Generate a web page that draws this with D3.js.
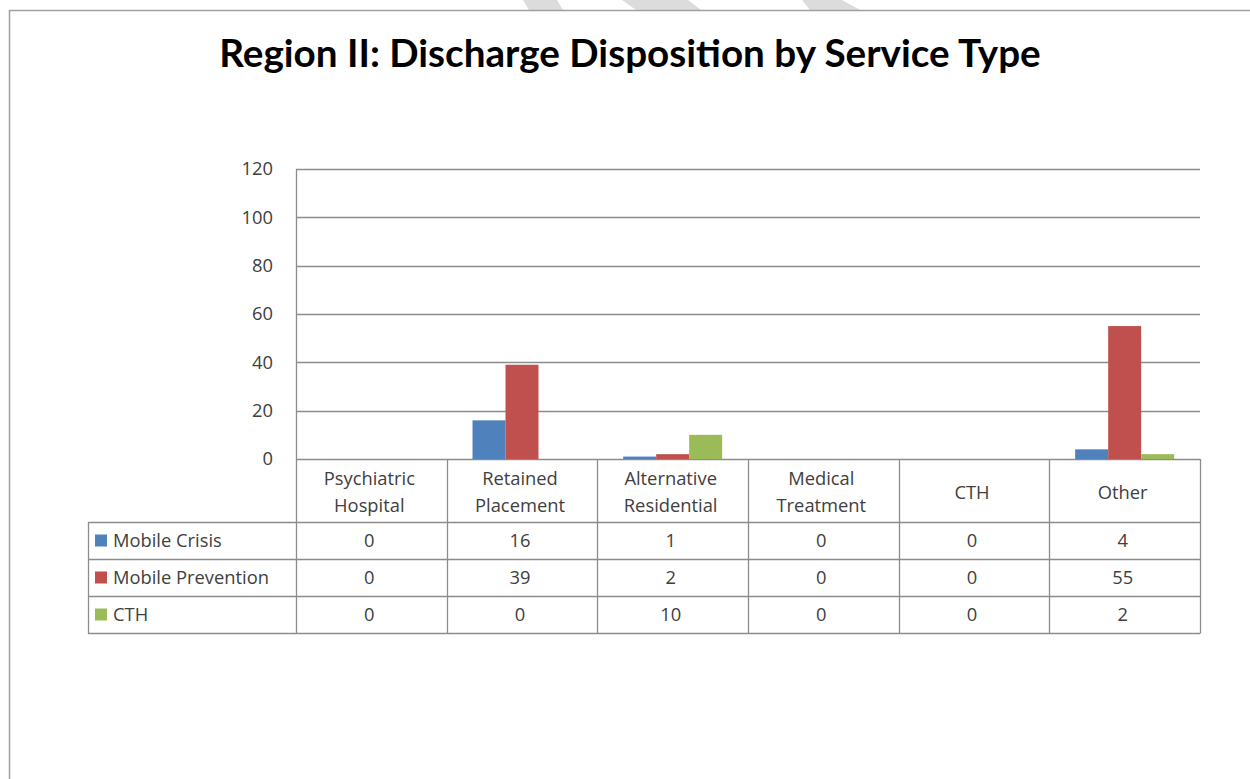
<!DOCTYPE html>
<html>
<head>
<meta charset="utf-8">
<script src="https://cdn.jsdelivr.net/npm/d3@7"></script>
<style>
  html, body { margin: 0; padding: 0; background: #fff; }
  svg { display: block; }
</style>
</head>
<body>
<svg id="chart"></svg>
<script>
// chart data
const categories = ["Psychiatric Hospital", "Retained Placement", "Alternative Residential", "Medical Treatment", "CTH", "Other"];
const categoryLines = [["Psychiatric", "Hospital"], ["Retained", "Placement"], ["Alternative", "Residential"], ["Medical", "Treatment"], ["CTH"], ["Other"]];
const seriesNames = ["Mobile Crisis", "Mobile Prevention", "CTH"];
const mobileCrisis = [0, 16, 1, 0, 0, 4];
const mobilePrevention = [0, 39, 2, 0, 0, 55];
const cth = [0, 0, 10, 0, 0, 2];
const yTicks = [0, 20, 40, 60, 80, 100, 120];
const title = "Region II: Discharge Disposition by Service Type";

const seriesValues = [mobileCrisis, mobilePrevention, cth];
const colors = ["#4F81BD", "#C0504D", "#9BBB59"];

const width = 1250, height = 779;
const svg = d3.select("#chart").attr("width", width).attr("height", height);

// faint watermark stripes cut off at the top of the page
const stripes = [
  [[523, 0], [557, 0], [563, 10], [529, 10]],
  [[622, 0], [688, 0], [701, 10], [636, 10]],
  [[802, 0], [842, 0], [860, 10], [810, 10]]
];
svg.selectAll("polygon.wm").data(stripes).enter().append("polygon")
  .attr("points", d => d.map(p => p.join(",")).join(" "))
  .attr("fill", "#dcdcdc");

// outer frame (only the top and left edges are in view)
svg.append("path")
  .attr("d", "M9.5," + height + " V10.5 H" + width)
  .attr("fill", "none").attr("stroke", "#a0a0a0").attr("stroke-width", 1.5);

// title, sized to span the same width as the original
const titleText = svg.append("text")
  .attr("x", 630).attr("y", 67)
  .attr("text-anchor", "middle")
  .style("font-family", "Lato, 'Open Sans', sans-serif")
  .style("font-weight", "bold")
  .style("font-size", "32px")
  .attr("fill", "#000")
  .text(title);
let tw = titleText.node().getComputedTextLength();
titleText.style("font-size", (32 * 822 / tw) + "px");

// label font size: fit "Mobile Prevention" to its width in the reference
const labelFont = "'Open Sans', 'Noto Sans', sans-serif";
const probe = svg.append("text").style("font-family", labelFont).style("font-size", "16px").text("Mobile Prevention");
const fs = 16 * 156 / probe.node().getComputedTextLength();
probe.remove();
const textColor = "#404040";
const textShift = -2;

const plotLeft = 296, plotRight = 1200, plotTop = 169, plotBottom = 459;

const x = d3.scaleBand().domain(categories).range([plotLeft, plotRight]);
const groupW = x.bandwidth() * 0.657;
const xInner = d3.scaleBand().domain(seriesNames)
  .range([(x.bandwidth() - groupW) / 2, (x.bandwidth() + groupW) / 2]);
const y = d3.scaleLinear().domain([0, 120]).range([plotBottom, plotTop]);

const gridColor = "#8c8c8c";

// gridlines
svg.append("g").selectAll("line").data(yTicks).enter().append("line")
  .attr("x1", plotLeft).attr("x2", plotRight)
  .attr("y1", d => Math.round(y(d)) + 0.5).attr("y2", d => Math.round(y(d)) + 0.5)
  .attr("stroke", gridColor).attr("stroke-width", 1.3);

// y axis labels
const yAxis = d3.axisLeft(y).tickValues(yTicks).tickSize(0).tickPadding(0);
const gy = svg.append("g").attr("transform", "translate(273,0)").call(yAxis);
gy.select(".domain").remove();
gy.selectAll("text")
  .style("font-family", labelFont).style("font-size", fs + "px")
  .attr("fill", textColor);

// bars
const groups = svg.append("g").selectAll("g").data(categories).enter().append("g")
  .attr("transform", d => "translate(" + x(d) + ",0)");
groups.selectAll("rect")
  .data((c, i) => seriesNames.map((s, k) => ({ s: s, v: seriesValues[k][i], k: k })))
  .enter().append("rect")
  .attr("x", d => xInner(d.s))
  .attr("width", xInner.bandwidth())
  .attr("y", d => y(d.v))
  .attr("height", d => y(0) - y(d.v))
  .attr("fill", d => colors[d.k]);

// data table below the plot
const headerBottom = 522;
const rowH = 37;
const tableLeft = 88;
const rowY = seriesNames.map((s, k) => headerBottom + k * rowH);
const tableBottom = headerBottom + seriesNames.length * rowH;

const tbl = svg.append("g")
  .attr("stroke", gridColor).attr("stroke-width", 1.3).attr("fill", "none");

// horizontal lines
tbl.append("line").attr("x1", tableLeft).attr("x2", plotRight)
  .attr("y1", headerBottom + 0.5).attr("y2", headerBottom + 0.5);
rowY.forEach((ry, k) => {
  const yy = ry + rowH + 0.5;
  tbl.append("line").attr("x1", tableLeft).attr("x2", plotRight).attr("y1", yy).attr("y2", yy);
});
// vertical lines: value-axis line, category separators and right edge
tbl.append("line").attr("x1", plotLeft + 0.5).attr("x2", plotLeft + 0.5)
  .attr("y1", plotTop).attr("y2", tableBottom + 0.5);
categories.forEach(c => {
  const xx = Math.round(x(c) + x.bandwidth()) + 0.5;
  tbl.append("line").attr("x1", xx).attr("x2", xx).attr("y1", plotBottom).attr("y2", tableBottom + 0.5);
});
tbl.append("line").attr("x1", tableLeft + 0.5).attr("x2", tableLeft + 0.5)
  .attr("y1", headerBottom).attr("y2", tableBottom + 0.5);

// category header labels
const lineGap = 27;
const header = svg.append("g").selectAll("text").data(categories).enter().append("text")
  .attr("y", (d, i) => {
    const n = categoryLines[i].length;
    return (plotBottom + headerBottom) / 2 - (n - 1) * lineGap / 2;
  })
  .attr("text-anchor", "middle")
  .attr("dominant-baseline", "central")
  .style("font-family", labelFont).style("font-size", fs + "px")
  .attr("fill", textColor);
header.each(function(d, i) {
  const t = d3.select(this);
  categoryLines[i].forEach((ln, j) => {
    t.append("tspan").attr("x", x(d) + x.bandwidth() / 2 + textShift).attr("dy", j === 0 ? 0 : lineGap).text(ln);
  });
});

// legend keys and series names in the first column
const rows = svg.append("g").selectAll("g").data(seriesNames).enter().append("g")
  .attr("transform", (d, k) => "translate(0," + (rowY[k] + rowH / 2) + ")");
rows.append("rect")
  .attr("x", 95).attr("y", -6).attr("width", 12).attr("height", 12)
  .attr("fill", (d, k) => colors[k]);
rows.append("text")
  .attr("x", 113).attr("dy", "0.35em")
  .style("font-family", labelFont).style("font-size", fs + "px")
  .attr("fill", textColor)
  .text(d => d);

// table values
rows.each(function(s, k) {
  d3.select(this).selectAll("text.val").data(seriesValues[k]).enter().append("text")
    .attr("class", "val")
    .attr("x", (v, i) => x(categories[i]) + x.bandwidth() / 2 + textShift)
    .attr("dy", "0.35em")
    .attr("text-anchor", "middle")
    .style("font-family", labelFont).style("font-size", fs + "px")
    .attr("fill", textColor)
    .text(v => v);
});
</script>
</body>
</html>
